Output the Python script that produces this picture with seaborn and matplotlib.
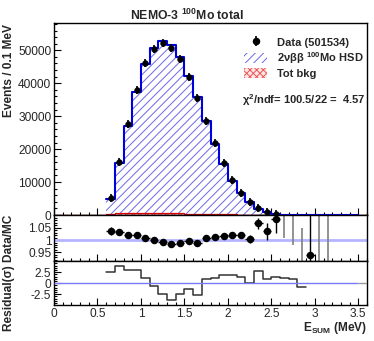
import numpy as np
import pandas as pd
import matplotlib
matplotlib.use("Agg")
import matplotlib.pyplot as plt
import seaborn as sns
from matplotlib.patches import Patch
from matplotlib.lines import Line2D
from matplotlib.legend_handler import HandlerTuple
from matplotlib.ticker import MultipleLocator

# ---------------- data ----------------
bin_edges = [0.6, 0.7, 0.8, 0.9, 1.0, 1.1, 1.2, 1.3, 1.4, 1.5, 1.6, 1.7, 1.8, 1.9, 2.0,
             2.1, 2.2, 2.3, 2.4, 2.5, 2.6, 2.7, 2.8, 2.9, 3.0, 3.1, 3.2, 3.3, 3.4, 3.5]
centers = [0.65, 0.75, 0.85, 0.95, 1.05, 1.15, 1.25, 1.35, 1.45, 1.55, 1.65, 1.75, 1.85,
           1.95, 2.05, 2.15, 2.25, 2.35, 2.45, 2.55, 2.65, 2.75, 2.85, 2.95, 3.05, 3.15,
           3.25, 3.35, 3.45]
data_counts = [5060, 16200, 27600, 37900, 46200, 50500, 52200, 50700, 47300, 41900, 35400,
               28600, 21750, 15700, 10620, 6780, 3810, 1980, 810, 305, 115, 45, 7, 5,
               0, 0, 0, 0, 0]
mc_total = [4884, 15667, 27006, 37193, 45879, 50550, 52700, 51524, 47826, 42127, 35884,
            28401, 21513, 15453, 10395, 6654, 3799, 1854, 782, 281, 92, 35, 12, 5,
            2, 1, 0.5, 0.2, 0.1]
bkg_total = [300, 480, 580, 620, 640, 620, 580, 530, 480, 420, 360, 300, 250, 200, 160,
             130, 100, 75, 55, 40, 25, 15, 10, 6, 4, 3, 2, 1, 1]

ratio_x = [0.65, 0.75, 0.85, 0.95, 1.05, 1.15, 1.25, 1.35, 1.45, 1.55, 1.65, 1.75, 1.85,
           1.95, 2.05, 2.15, 2.25, 2.35, 2.45, 2.55, 2.65, 2.75, 2.85, 2.95, 3.05, 3.15]
ratio = [1.036, 1.034, 1.022, 1.019, 1.007, 0.999, 0.9905, 0.984, 0.989, 0.9946, 0.9865,
         1.007, 1.011, 1.016, 1.0216, 1.019, 1.003, 1.068, 1.036, 1.085, 1.25, 1.30,
         0.55, 0.94, 0.0, 0.0]
ratio_err = [0.015, 0.008, 0.006, 0.005, 0.005, 0.0045, 0.0045, 0.0045, 0.0045, 0.005,
             0.0055, 0.006, 0.007, 0.008, 0.010, 0.012, 0.016, 0.022, 0.035, 0.058, 0.24,
             0.32, 0.50, 0.50, 1.2, 1.5]

resid_edges = [0.6, 0.7, 0.8, 0.9, 1.0, 1.1, 1.2, 1.3, 1.4, 1.5, 1.6, 1.7, 1.8, 1.9, 2.0,
               2.1, 2.2, 2.3, 2.4, 2.5, 2.6, 2.7, 2.8, 2.9]
resid = [2.5, 3.94, 3.03, 3.1, 1.14, -0.53, -2.42, -3.79, -2.5, -1.36, -2.65, 0.9, 1.29,
         1.9, 1.9, 1.43, 0.07, 2.8, 0.9, 1.5, 1.1, 0.9, -0.77]

# ---------------- style ----------------
sns.set_style("ticks")
plt.rcParams['font.family'] = ['Liberation Sans', 'DejaVu Sans']
plt.rcParams['mathtext.fontset'] = 'custom'
plt.rcParams['mathtext.default'] = 'rm'
plt.rcParams['mathtext.rm'] = 'Liberation Sans:bold'
plt.rcParams['mathtext.it'] = 'Liberation Sans:bold'
plt.rcParams['mathtext.bf'] = 'Liberation Sans:bold'
plt.rcParams['hatch.linewidth'] = 0.7
plt.rcParams['axes.linewidth'] = 1.0
plt.rcParams['axes.edgecolor'] = 'black'

W, H = 374, 341
fig = plt.figure(figsize=(W / 100, H / 100), dpi=100)

def fx(px):
    return px / W

def fy(py):
    return 1 - py / H

left, right = 54, 367
ax1 = fig.add_axes([fx(left), fy(215), fx(right - left), (215 - 23.3) / H])
ax2 = fig.add_axes([fx(left), fy(261), fx(right - left), (261 - 215) / H])
ax3 = fig.add_axes([fx(left), fy(305), fx(right - left), (305 - 261) / H])

FS = 8.6
LFS = 8.0
blue = '#0000dd'
hatch_blue = '#6a6ae8'

# ---- top panel ----
ax1.stairs(mc_total, bin_edges, fill=True, hatch='////', facecolor='white',
           edgecolor=hatch_blue, linewidth=0, zorder=1)
sns.histplot(x=centers, weights=mc_total, bins=bin_edges, element='step', fill=False,
             color=blue, linewidth=1.5, ax=ax1, zorder=3)
ax1.stairs(bkg_total, bin_edges, fill=True, hatch='xxxxx', facecolor='#ffe6e6',
           edgecolor='#ee5555', linewidth=0, zorder=2)
ax1.stairs(bkg_total, bin_edges, fill=False, edgecolor='#dd0000', linewidth=0.9, zorder=2.5)
ax1.axhline(0, color='#8b1a1a', lw=1.0, zorder=2.6)
dmask = [c <= 2.6 for c in centers]
dx = [c for c, m in zip(centers, dmask) if m]
dy = [d for d, m in zip(data_counts, dmask) if m]
sns.scatterplot(x=dx, y=dy, marker='|', s=30, color='black', linewidth=1.2, ax=ax1, zorder=5)
sns.scatterplot(x=dx, y=dy, marker='o', s=18, color='black', edgecolor='black',
                linewidth=0.3, ax=ax1, zorder=6)
ax1.set_xlim(0, 3.6)
ax1.set_ylim(0, 58200)
ax1.yaxis.set_major_locator(MultipleLocator(10000))
ax1.yaxis.set_minor_locator(MultipleLocator(2000))

# ---- ratio panel ----
ax2.axhline(1.0, color='#b4b4ff', lw=2.0, zorder=1)
rin = [i for i in range(len(ratio_x)) if 0.915 < ratio[i] < 1.101]
rout = [i for i in range(len(ratio_x)) if not (0.915 < ratio[i] < 1.101)]
ax2.errorbar([ratio_x[i] for i in rout], [ratio[i] for i in rout],
             yerr=[ratio_err[i] for i in rout], fmt='none', ecolor='#808080',
             elinewidth=1.2, zorder=2)
ax2.errorbar([ratio_x[i] for i in rin], [ratio[i] for i in rin],
             yerr=[ratio_err[i] for i in rin], xerr=0.05, fmt='o', ms=4.4,
             color='black', ecolor='black', elinewidth=1.0, zorder=3)
ax2.set_xlim(0, 3.6)
ax2.set_ylim(0.915, 1.1015)

# ---- residual panel ----
ax3.hlines(0, 0, 3.5, color='#7a7aff', lw=1.0, zorder=3)
ax3.hlines(0, 3.5, 3.6, color='#999999', lw=1.0, zorder=3)
sns.histplot(x=[0.5 * (resid_edges[i] + resid_edges[i + 1]) for i in range(len(resid))],
             weights=resid, bins=resid_edges, element='step', fill=False,
             color='#333333', linewidth=1.1, ax=ax3, zorder=2)
ax3.set_xlim(0, 3.6)
ax3.set_ylim(-4.95, 5.05)

for ax in (ax1, ax2, ax3):
    ax.set_xlabel('')
    ax.set_ylabel('')
    ax.xaxis.set_major_locator(MultipleLocator(0.5))
    ax.xaxis.set_minor_locator(MultipleLocator(0.1))
    ax.tick_params(which='both', direction='in', top=False, right=False,
                   labelsize=FS, color='black', pad=2)
    ax.tick_params(which='major', length=5, width=0.8)
    ax.tick_params(which='minor', length=2.5, width=0.8)
    for s in ax.spines.values():
        s.set_visible(True)
        s.set_color('black')
        s.set_linewidth(1.0)
ax1.tick_params(labelbottom=False)
ax2.tick_params(labelbottom=False)

ax2.set_yticks([0.95, 1.0, 1.05])
ax2.set_yticklabels(['0.95', '1', '1.05'])
ax2.yaxis.set_minor_locator(MultipleLocator(0.01))
ax3.set_yticks([-2.5, 0, 2.5])
ax3.set_yticklabels(['-2.5', '0', '2.5'])
ax3.yaxis.set_minor_locator(MultipleLocator(0.5))
ax3.set_xticks([0, 0.5, 1, 1.5, 2, 2.5, 3, 3.5])
ax3.set_xticklabels(['0', '0.5', '1', '1.5', '2', '2.5', '3', '3.5'])
ax3.xaxis.set_minor_locator(MultipleLocator(0.1))

# ---- texts ----
fig.text(0.5, fy(15), 'NEMO-3 $^{100}$Mo total', ha='center', va='center',
         fontsize=8.8, fontweight='bold')
fig.text(fx(9), fy(24), 'Events / 0.1 MeV', rotation=90, ha='center', va='top',
         fontsize=FS, fontweight='bold')
fig.text(fx(9), fy(215), 'Residual(σ) Data/MC', rotation=90, ha='center', va='top',
         fontsize=FS, fontweight='bold')
fig.text(fx(367), fy(328), 'E$_{SUM}$ (MeV)', ha='right', va='center',
         fontsize=FS, fontweight='bold')
fig.text(fx(242), fy(100), 'χ$^{2}$/ndf= 100.5/22 =  4.57', ha='left', va='center',
         fontsize=LFS, fontweight='bold')

h_data = (Line2D([], [], marker='|', ms=7, color='black', ls='none', mew=1.2),
          Line2D([], [], marker='o', ms=4.4, color='black', ls='none'))
h_sig = Patch(facecolor='white', edgecolor=hatch_blue, hatch='////', linewidth=0)
h_bkg = Patch(facecolor='#ffe6e6', edgecolor='#ee5555', hatch='xxxxx', linewidth=0)
leg = fig.legend([h_data, h_sig, h_bkg],
                 ['Data (501534)', '2νββ $^{100}$Mo HSD', 'Tot bkg'],
                 handler_map={tuple: HandlerTuple(ndivide=1)},
                 loc='upper left', bbox_to_anchor=(fx(244), fy(37)),
                 frameon=False, borderpad=0, borderaxespad=0,
                 handlelength=2.1, handleheight=0.95, handletextpad=0.9,
                 labelspacing=0.22, prop={'size': LFS, 'weight': 'bold'})

fig.savefig('out.png', dpi=100)
